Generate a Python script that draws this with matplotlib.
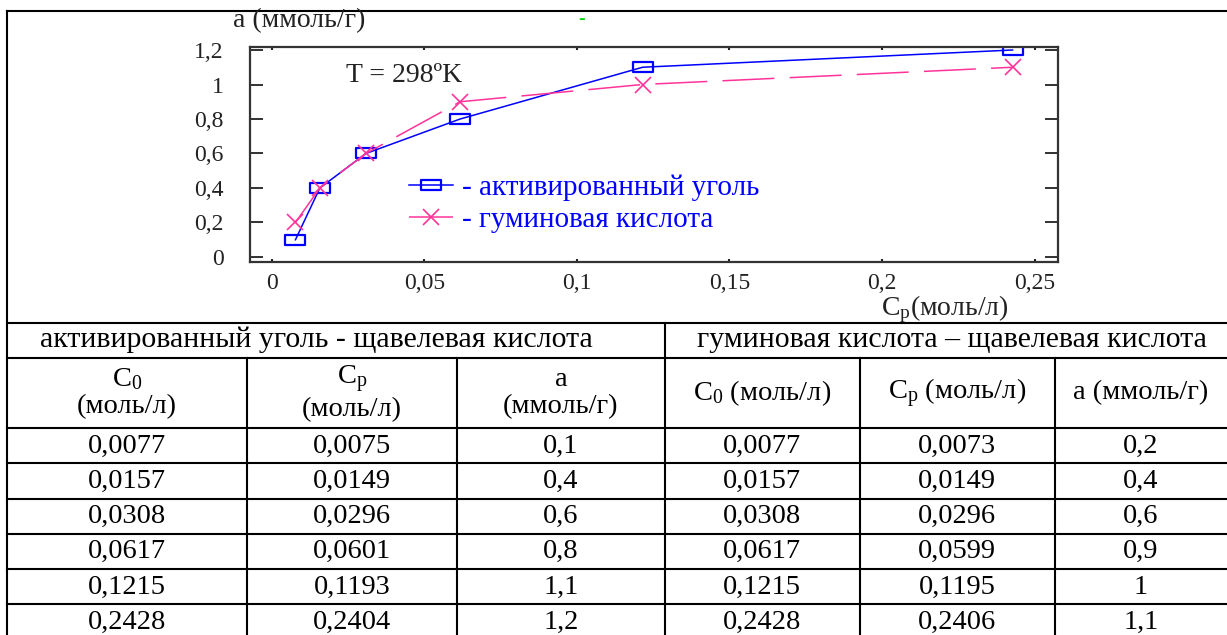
import matplotlib
matplotlib.use('Agg')
import matplotlib.pyplot as plt
from matplotlib.path import Path
from matplotlib.ticker import FuncFormatter

plt.rcParams['font.family'] = 'Liberation Serif'
plt.rcParams['mathtext.fontset'] = 'custom'
plt.rcParams['mathtext.rm'] = 'Liberation Serif'
plt.rcParams['mathtext.it'] = 'Liberation Serif:italic'

# activated carbon - oxalic acid
c0_coal = [0.0077, 0.0157, 0.0308, 0.0617, 0.1215, 0.2428]
cp_coal = [0.0075, 0.0149, 0.0296, 0.0601, 0.1193, 0.2404]
a_coal = [0.1, 0.4, 0.6, 0.8, 1.1, 1.2]
# humic acid - oxalic acid
c0_humic = [0.0077, 0.0157, 0.0308, 0.0617, 0.1215, 0.2428]
cp_humic = [0.0073, 0.0149, 0.0296, 0.0599, 0.1195, 0.2406]
a_humic = [0.2, 0.4, 0.6, 0.9, 1, 1.1]

xticks = [0, 0.05, 0.1, 0.15, 0.2, 0.25]
yticks = [0, 0.2, 0.4, 0.6, 0.8, 1.0, 1.2]

leg_labels = ['- активированный уголь', '- гуминовая кислота']
temp_label = 'T = 298ºK'
ylab = 'a (ммоль/г)'
xlab = r'C$_\mathrm{p}$(моль/л)'
title_left = 'активированный уголь - щавелевая кислота'
title_right = 'гуминовая кислота – щавелевая кислота'
head_left = ['C$_0$\n(моль/л)', 'C$_\\mathrm{p}$\n(моль/л)', 'а\n(ммоль/г)']
head_right = ['C$_0$ (моль/л)', 'C$_\\mathrm{p}$ (моль/л)', 'а (ммоль/г)']


def comma(v, pos=None):
    return f'{v:g}'.replace('.', ',')


W, H = 1227, 635
fig = plt.figure(figsize=(W / 100, H / 100), dpi=100)

# background axes in pixel units for the frame / table
bg = fig.add_axes([0, 0, 1, 1])
bg.set_xlim(0, W)
bg.set_ylim(H, 0)
bg.axis('off')

# ---- chart ----
ax = fig.add_axes([250 / W, 1 - 262 / H, (1058 - 250) / W, (262 - 47) / H])
ax.set_facecolor('none')
rect = Path([(-1, -0.48), (1, -0.48), (1, 0.48), (-1, 0.48), (-1, -0.48)],
            [Path.MOVETO, Path.LINETO, Path.LINETO, Path.LINETO, Path.CLOSEPOLY])
ax.plot(c0_coal, a_coal, color='#0000ff', lw=1.1, marker=rect, ms=14.5,
        mfc='none', mew=1.6, label=leg_labels[0])
ax.plot(c0_humic, a_humic, color='#ff3399', lw=1.1, ls=(0, (34, 10)),
        marker='x', ms=11, mew=1.2, label=leg_labels[1])
ax.set_xlim(-0.0072, 0.2577)
ax.set_ylim(-0.029, 1.2174)
ax.set_xticks(xticks)
ax.set_yticks(yticks)
ax.xaxis.set_major_formatter(FuncFormatter(comma))
ax.yaxis.set_major_formatter(FuncFormatter(comma))
ax.tick_params(axis='y', direction='in', length=9.5, width=1.3, left=True,
               right=True, pad=19, labelsize=17, colors='#222222')
ax.tick_params(axis='x', direction='in', length=2, width=1.5, top=True,
               bottom=True, pad=8, labelsize=17, colors='#222222')
for s in ax.spines.values():
    s.set_linewidth(1.6)
    s.set_color('#333333')

ax.legend(loc='upper left', bbox_to_anchor=(409 / W, 1 - 175 / H),
          bbox_transform=fig.transFigure, frameon=False, borderpad=0,
          borderaxespad=0, handlelength=1.5, handletextpad=0.3,
          labelspacing=0.18, prop=dict(family='Liberation Serif', size=21),
          labelcolor='#0000ff')

bg.text(404, 75, temp_label, ha='center', va='center', size=20, color='#222222')
bg.text(299, 21, ylab, ha='center', va='center', size=20, color='#222222')
bg.text(945, 315, xlab, ha='center', va='baseline', size=20, color='#222222')
bg.text(582, 20, '-', ha='center', va='center', size=14, weight='bold',
        color='#00dd00')

# ---- frame and table grid ----
lw = 1.5
bg.plot([7, W], [11, 11], color='k', lw=lw)
bg.plot([7, W], [323, 323], color='k', lw=lw)
bg.plot([7, 7], [11, H], color='k', lw=lw)
row_y = [358, 428, 463, 499, 534, 569, 604]
for y in row_y:
    bg.plot([7, W], [y, y], color='k', lw=lw)
bg.plot([665, 665], [323, H], color='k', lw=lw)
for x in [247, 457, 860, 1055]:
    bg.plot([x, x], [358, H], color='k', lw=lw)

tfont = dict(family='Liberation Serif', size=20.5, ha='center', va='center')
hfont = dict(tfont, size=21.5)
bg.text(316, 340, title_left, **hfont)
bg.text(952, 340, title_right, **hfont)

left_cx = [127, 352, 561]
right_cx = [762, 957, 1141]
for cx, s in zip(left_cx, head_left):
    bg.text(cx, 393, s, linespacing=1.1, **tfont)
for cx, s in zip(right_cx, head_right):
    bg.text(cx, 393, s, **tfont)

row_cy = [446, 481, 516, 551, 587, 622]
for i, cy in enumerate(row_cy):
    for cx, v in zip(left_cx, [c0_coal[i], cp_coal[i], a_coal[i]]):
        bg.text(cx, cy, comma(v), **tfont)
    for cx, v in zip(right_cx, [c0_humic[i], cp_humic[i], a_humic[i]]):
        bg.text(cx, cy, comma(v), **tfont)

fig.savefig('out.png', dpi=100)
